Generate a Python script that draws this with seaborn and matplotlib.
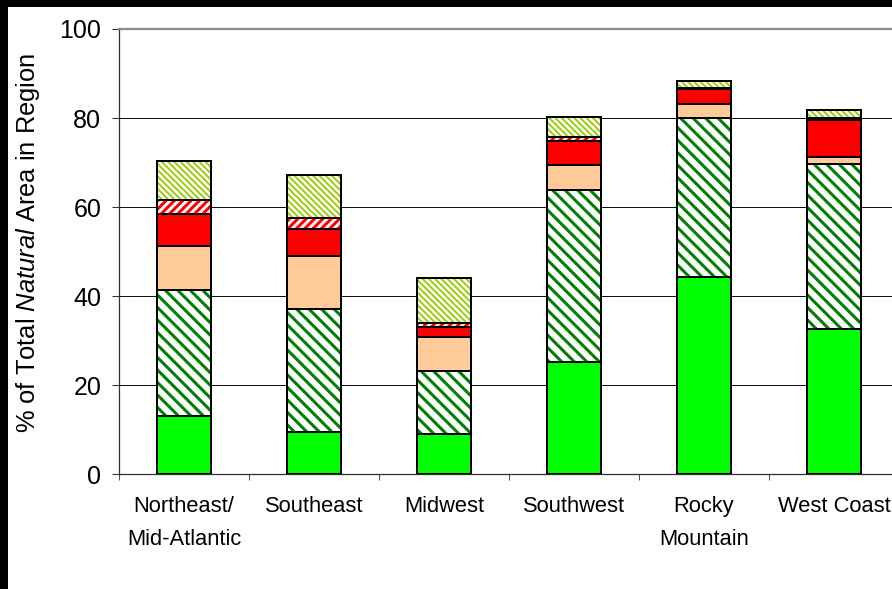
import matplotlib
matplotlib.use("Agg")
import matplotlib.pyplot as plt
import seaborn as sns
import numpy as np
from matplotlib.patches import Rectangle

# ---- data (percent of total natural area in region) ----
categories = ["Northeast/\nMid-Atlantic", "Southeast", "Midwest", "Southwest",
              "Rocky\nMountain", "West Coast"]
green_solid = [13.1, 9.5, 9.0, 25.3, 44.4, 32.6]
green_hatched = [28.2, 27.6, 14.3, 38.6, 35.6, 37.0]
peach_solid = [10.0, 11.9, 7.5, 5.6, 3.1, 1.7]
red_solid = [7.2, 6.0, 2.2, 5.4, 3.4, 8.3]
red_hatched = [3.1, 2.6, 0.9, 0.8, 0.3, 0.4]
lime_hatched = [8.8, 9.7, 10.2, 4.6, 1.6, 1.8]
y_ticks = [0, 20, 40, 60, 80, 100]

layers = [green_solid, green_hatched, peach_solid, red_solid, red_hatched, lime_hatched]
# (face colour, hatch, hatch colour, hatch linewidth)
styles = [
    ("#00FF00", None, None, 1.0),
    ("#FFFFFF", "\\\\", "#008000", 2.9),
    ("#FFCC99", None, None, 1.0),
    ("#FF0000", None, None, 1.0),
    ("#FFFFFF", "///", "#FF0000", 2.9),
    ("#FFFFFF", "\\\\\\\\", "#99CC00", 1.8),
]

sns.set_theme(style="white")
plt.rcParams['font.family'] = ['Liberation Sans', 'DejaVu Sans']
plt.rcParams['mathtext.fontset'] = 'custom'
plt.rcParams['mathtext.rm'] = 'Liberation Sans'
plt.rcParams['mathtext.it'] = 'Liberation Sans:italic'

DPI = 75
W, H = 892, 589
fig = plt.figure(figsize=(W / DPI, H / DPI), dpi=DPI)
fig.patch.set_facecolor("white")
ax = fig.add_axes([119 / W, (H - 474.3) / H, 780 / W, 445.3 / H])
ax.set_facecolor("white")

cum = np.cumsum(np.array(layers, dtype=float), axis=0)
bar_w = 0.41
for i in reversed(range(len(layers))):
    face, hatch, hcol, hlw = styles[i]
    with plt.rc_context({'hatch.linewidth': hlw}):
        if hatch:
            sns.barplot(x=categories, y=cum[i], order=categories, ax=ax, color=face,
                        saturation=1, width=bar_w, hatch=hatch, edgecolor=hcol,
                        linewidth=0, errorbar=None, zorder=2)
        else:
            sns.barplot(x=categories, y=cum[i], order=categories, ax=ax, color=face,
                        saturation=1, width=bar_w, edgecolor=face,
                        linewidth=0, errorbar=None, zorder=2)
    sns.barplot(x=categories, y=cum[i], order=categories, ax=ax, color="black",
                fill=False, width=bar_w, linewidth=1.9, errorbar=None, zorder=3)

# gridlines
for yv in y_ticks[1:-1]:
    ax.axhline(yv, color="black", lw=0.9, zorder=0)

ax.set_ylim(0, 100)
ax.set_xlim(-0.5, 5.5)
ax.set_yticks(y_ticks)
ax.set_xticks(range(len(categories)))
ax.set_xticklabels(categories, fontsize=21, linespacing=1.75)
ax.set_xticks(np.arange(-0.5, 6.0, 1.0), minor=True)
ax.tick_params(axis="x", which="major", length=0, pad=21, colors="black")
ax.tick_params(axis="x", which="minor", length=6, width=1.0, bottom=True, color="#505050")
ax.tick_params(axis="y", which="major", length=7, width=1.0, left=True, color="#303030",
               labelsize=24, pad=10, labelcolor="black")
ax.set_xlabel("")
ax.set_ylabel(r"% of Total $\mathit{Natural}$ Area in Region", fontsize=24.5, color="black")
ax.yaxis.set_label_coords(-0.099, 0.52)

for s in ["left", "bottom"]:
    ax.spines[s].set_color("#303030")
    ax.spines[s].set_linewidth(1.2)
ax.spines["top"].set_color("#8C8C8C")
ax.spines["top"].set_linewidth(2.2)
ax.spines["right"].set_color("#8C8C8C")
ax.spines["right"].set_linewidth(2.2)

# black frame on left and top edges of the picture
fig.add_artist(Rectangle((0, 0), 8 / W, 1, transform=fig.transFigure,
                         facecolor="black", edgecolor="none", zorder=10))
fig.add_artist(Rectangle((0, 1 - 7 / H), 1, 7 / H, transform=fig.transFigure,
                         facecolor="black", edgecolor="none", zorder=10))

fig.savefig("out.png", dpi=DPI)
